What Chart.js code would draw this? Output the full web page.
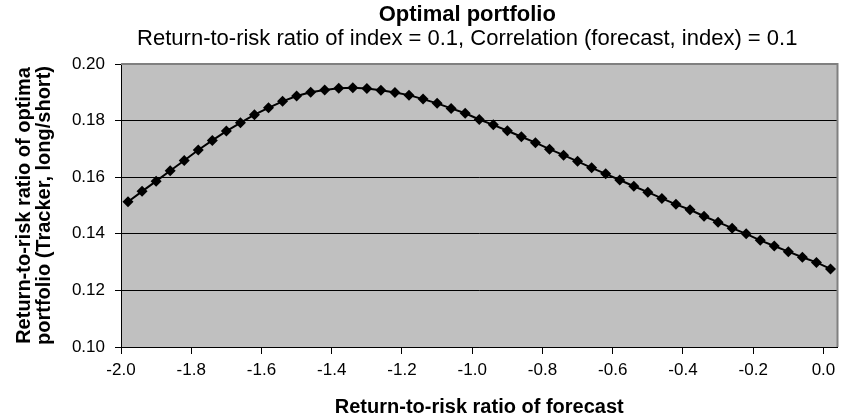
<!DOCTYPE html>
<html>
<head>
<meta charset="utf-8">
<script src="https://cdn.jsdelivr.net/npm/chart.js@4/dist/chart.umd.min.js"></script>
<style>
  html, body { margin: 0; padding: 0; background: #fff; }
  #wrap { width: 843px; height: 418px; position: relative; }
</style>
</head>
<body>
<div id="wrap"><canvas id="c" width="843" height="418"></canvas></div>
<script>
// Return-to-risk ratio of the forecast (x) and of the optimal tracker portfolio (y)
const forecastRatio = [
  -1.98, -1.94, -1.90, -1.86, -1.82, -1.78, -1.74, -1.70, -1.66, -1.62,
  -1.58, -1.54, -1.50, -1.46, -1.42, -1.38, -1.34, -1.30, -1.26, -1.22,
  -1.18, -1.14, -1.10, -1.06, -1.02, -0.98, -0.94, -0.90, -0.86, -0.82,
  -0.78, -0.74, -0.70, -0.66, -0.62, -0.58, -0.54, -0.50, -0.46, -0.42,
  -0.38, -0.34, -0.30, -0.26, -0.22, -0.18, -0.14, -0.10, -0.06, -0.02,
   0.02
];
const portfolioRatio = [
  0.1513, 0.1550, 0.1586, 0.1623, 0.1659, 0.1696, 0.1730, 0.1763, 0.1792, 0.1821,
  0.1845, 0.1868, 0.1887, 0.1900, 0.1908, 0.1914, 0.1916, 0.1913, 0.1907, 0.1899,
  0.1890, 0.1876, 0.1861, 0.1843, 0.1826, 0.1804, 0.1785, 0.1764, 0.1743, 0.1722,
  0.1699, 0.1678, 0.1656, 0.1633, 0.1612, 0.1590, 0.1568, 0.1547, 0.1525, 0.1504,
  0.1485, 0.1462, 0.1441, 0.1420, 0.1400, 0.1377, 0.1357, 0.1337, 0.1317, 0.1299,
  0.1276
];
const xTicks = [-2.0, -1.8, -1.6, -1.4, -1.2, -1.0, -0.8, -0.6, -0.4, -0.2, 0.0];
const yTicks = [0.10, 0.12, 0.14, 0.16, 0.18, 0.20];

const titleText = 'Optimal portfolio';
const subtitleText = 'Return-to-risk ratio of index = 0.1, Correlation (forecast, index) = 0.1';
const xTitle = 'Return-to-risk ratio of forecast';
const yTitle = ['Return-to-risk ratio of optima', 'portfolio (Tracker, long/short)'];

const FONT = "'Liberation Sans', Arial, Helvetica, sans-serif";

// Grey plot background, grey top/right frame, and the two-line heading
const plotDecor = {
  id: 'plotDecor',
  beforeDraw(chart) {
    const { ctx, chartArea: a } = chart;
    ctx.save();
    ctx.fillStyle = '#c0c0c0';
    ctx.fillRect(a.left, a.top, a.right - a.left, a.bottom - a.top);
    ctx.restore();
  },
  afterDraw(chart) {
    const { ctx, chartArea: a } = chart;
    ctx.save();
    ctx.strokeStyle = '#808080';
    ctx.lineWidth = 2;
    ctx.beginPath();
    ctx.moveTo(a.left, a.top);
    ctx.lineTo(a.right, a.top);
    ctx.lineTo(a.right, a.bottom);
    ctx.stroke();

    const cx = (a.left + a.right) / 2 - 12;
    ctx.fillStyle = '#000';
    ctx.textAlign = 'center';
    ctx.textBaseline = 'alphabetic';
    ctx.font = 'bold 22px ' + FONT;
    ctx.fillText(titleText, cx, 21);
    ctx.font = '22px ' + FONT;
    ctx.fillText(subtitleText, cx, 45);
    ctx.restore();
  }
};

new Chart(document.getElementById('c'), {
  type: 'line',
  data: {
    datasets: [{
      data: forecastRatio.map((x, i) => ({ x, y: portfolioRatio[i] })),
      borderColor: '#000',
      borderWidth: 2,
      backgroundColor: '#000',
      pointStyle: 'rectRot',
      pointRadius: 5.5,
      pointBorderWidth: 0,
      pointBackgroundColor: '#000',
      tension: 0
    }]
  },
  options: {
    responsive: false,
    animation: false,
    layout: { padding: { left: 0, right: 2, top: 64, bottom: 0 } },
    plugins: {
      legend: { display: false },
      tooltip: { enabled: false },
      title: { display: false }
    },
    scales: {
      x: {
        type: 'linear',
        min: -2.0,
        max: 0.04,
        afterBuildTicks: s => { s.ticks = xTicks.map(v => ({ value: v })); },
        afterFit: s => { s.height = 71; },
        ticks: {
          color: '#000',
          font: { family: FONT, size: 17 },
          padding: 6,
          maxRotation: 0,
          callback: v => v.toFixed(1)
        },
        grid: { drawOnChartArea: false, drawTicks: true, tickLength: 7, color: '#000' },
        border: { display: true, color: '#000', width: 1 },
        title: {
          display: true,
          text: xTitle,
          color: '#000',
          font: { family: FONT, size: 20, weight: 'bold', lineHeight: 1.0 },
          padding: { top: 0, bottom: 1 }
        }
      },
      y: {
        min: 0.10,
        max: 0.20,
        afterBuildTicks: s => { s.ticks = yTicks.map(v => ({ value: v })); },
        afterFit: s => { s.width = 121; },
        ticks: {
          color: '#000',
          font: { family: FONT, size: 17 },
          padding: 10,
          callback: v => v.toFixed(2)
        },
        grid: { color: '#000', lineWidth: 1, drawTicks: true, tickLength: 6 },
        border: { display: true, color: '#000', width: 1 },
        title: {
          display: true,
          text: yTitle,
          color: '#000',
          font: { family: FONT, size: 20, weight: 'bold', lineHeight: 1.0 },
          padding: { top: 14, bottom: 0 }
        }
      }
    }
  },
  plugins: [plotDecor]
});
</script>
</body>
</html>
